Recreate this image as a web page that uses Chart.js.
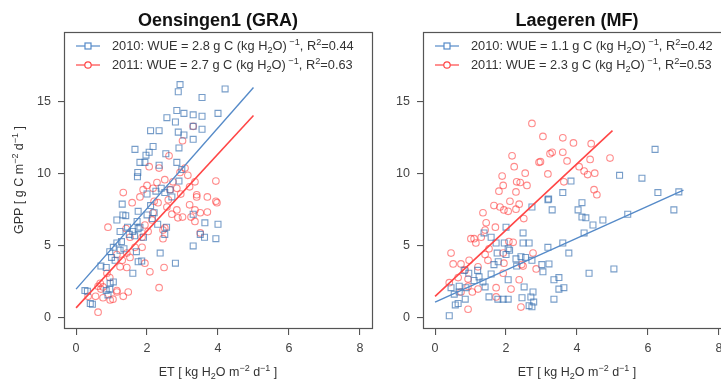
<!DOCTYPE html>
<html>
<head>
<meta charset="utf-8">
<script src="https://cdn.jsdelivr.net/npm/chart.js@4"></script>
<style>
  html, body { margin:0; padding:0; background:#fff; overflow:hidden; width:721px; height:383px; }
  .wrap { position:absolute; top:0; width:385px; height:383px; }
  canvas { display:block; }
</style>
</head>
<body>
<div class="wrap" style="left:0px"><canvas id="c1" width="385" height="383"></canvas></div>
<div class="wrap" style="left:359px"><canvas id="c2" width="385" height="383"></canvas></div>
<script>
// ---------------- data ----------------
const siteTitles = ["Oensingen1 (GRA)", "Laegeren (MF)"];
const years = ["2010", "2011"];
const xTicks = [0, 2, 4, 6, 8];
const yTicks = [0, 5, 10, 15];

// fit results per site: [2010, 2011]
const oensWUE = ["2.8", "2.7"];
const oensR2 = ["0.44", "0.63"];
const oensIntercept = [2.0, 0.7];
const oensSlope = [2.8, 2.67];
const oensFitXmax = [5, 5];

const laegWUE = ["1.1", "2.3"];
const laegR2 = ["0.42", "0.53"];
const laegIntercept = [1.1, 1.5];
const laegSlope = [1.11, 2.3];
const laegFitXmax = [7, 5];

// [ET, GPP] pairs
const oens2010 = [[0.25,1.9],[0.32,1.85],[0.4,1.0],[0.46,0.95],[0.9,1.6],[0.95,2.0],[0.96,2.4],[1.05,2.5],[0.85,1.9],
[0.7,3.6],[0.85,3.5],[0.95,4.6],[1.0,4.2],[1.1,4.0],[1.05,4.9],[1.15,5.2],[1.24,4.7],[1.28,5.3],[1.35,4.8],
[1.15,6.8],[1.3,7.9],[1.32,7.15],[1.24,6.0],[1.4,7.1],[1.5,5.8],[1.6,6.0],[1.65,5.7],[1.75,6.2],[1.8,6.3],[1.9,5.6],[1.45,6.3],
[1.6,3.1],[1.75,3.9],[1.85,3.95],[1.7,4.6],[1.75,7.4],[2.0,7.15],[1.72,6.7],[2.1,7.8],[2.2,7.3],[2.3,6.5],[2.15,6.9],
[2.37,4.5],[2.5,5.8],[2.55,6.3],[2.8,3.8],[2.5,8.7],[2.25,8.8],[2.4,9.0],[2.65,8.9],[2.0,8.6],
[1.66,11.7],[1.73,9.8],[1.74,10.1],[1.8,10.8],[1.94,10.8],[1.97,11.3],[2.06,11.5],[2.17,11.9],[2.1,13.0],[2.34,13.0],[2.34,10.6],[2.53,11.4],[2.56,13.9],[2.84,14.4],[2.84,10.8],[2.88,12.9],[2.88,15.7],[2.93,16.2],[2.9,11.8],[2.98,10.3],[3.04,14.2],[3.04,12.7],[3.3,14.1],[3.3,13.3],[3.3,12.4],[3.55,15.3],[3.55,14.0],[3.55,13.1],[4.2,15.9],[4.0,14.2],[2.8,13.6],
[3.3,7.2],[3.3,5.0],[3.5,5.8],[3.62,5.6],[3.63,6.6],[4.0,6.5],[3.94,5.5],[2.9,9.5],[2.7,8.4]];

const oens2011 = [[0.62,0.4],[0.34,1.5],[0.55,1.5],[0.62,2.2],[0.7,2.0],[0.76,1.4],[0.96,1.25],[1.04,1.3],[1.15,1.8],[1.33,1.5],[1.47,1.8],[1.15,1.9],[0.68,2.4],[0.76,2.15],[0.87,3.1],[0.95,2.8],
[2.08,3.2],[2.34,2.1],[2.48,3.5],[1.43,3.5],[1.24,3.55],[1.94,3.8],[1.86,4.9],[1.66,4.9],[1.43,4.5],[1.52,4.2],[1.15,4.4],[1.3,4.0],
[1.41,6.2],[0.9,6.3],[1.58,8.0],[1.52,5.6],[1.86,5.6],[2.03,6.0],[1.94,6.45],[2.14,6.8],[2.45,5.5],[2.45,6.1],[2.5,6.25],[2.17,7.3],[2.31,8.0],[2.56,7.7],[2.84,7.5],[2.87,6.95],[3.0,7.0],[2.7,7.2],
[3.2,7.85],[3.24,7.0],[3.35,7.5],[3.35,6.7],[3.5,7.3],[3.7,7.35],[3.4,8.4],[3.7,8.4],[3.97,8.0],[3.5,5.9],[2.6,8.2],[2.2,8.1],
[3.3,13.3],[3.0,12.3],[2.62,11.25],[2.06,10.5],[2.34,10.4],[3.94,9.5],[3.35,9.45],[3.15,9.9],[2.93,10.1],[3.07,10.4],[3.4,8.55],[3.94,8.1],[2.73,9.45],[2.84,9.0],[2.65,8.9],[2.28,9.4],[2.17,9.0],[1.89,8.9],[1.8,8.4],[1.33,8.7],[2.0,9.2],[2.5,9.6],[3.2,9.1],[2.95,8.6]];

const laeg2010 = [[0.4,0.15],[0.57,0.9],[0.65,1.0],[0.85,1.3],[0.54,1.65],[0.45,2.1],[0.68,2.2],[0.87,2.1],[0.68,1.8],[0.82,3.3],[0.95,3.1],[1.1,2.6],[1.24,2.85],[1.41,2.15],[1.52,1.46],[1.35,2.5],[1.58,3.05],[1.66,3.7],[1.75,4.5],[1.78,3.9],[2.0,4.4],[2.06,4.8],[1.95,5.2],[2.1,4.7],[1.72,5.2],[1.58,5.6],[1.38,5.9],[2.0,6.3],[2.48,5.9],[2.48,5.2],[2.65,5.2],[2.42,4.25],[2.28,4.1],[2.55,4.2],[2.73,4.0],[3.01,3.7],[3.21,3.75],[3.04,3.2],[2.06,2.65],[2.06,1.3],[1.92,1.3],[1.77,1.3],[2.51,2.15],[2.45,1.4],[2.76,1.8],[2.7,1.45],[2.73,0.77],[2.65,0.85],[2.78,1.1],[3.35,2.65],[3.49,2.8],[3.35,1.3],[3.49,2.0],[3.63,2.1],[3.18,4.9],[3.77,4.5],[3.6,5.2],[4.34,3.1],[5.04,3.4],
[2.73,7.7],[3.3,7.5],[3.18,8.2],[4.14,8.0],[4.03,7.5],[4.14,7.0],[4.25,6.95],[4.45,6.45],[4.73,6.8],[5.43,7.2],[6.28,8.7],[6.87,8.75],[6.73,7.5],[3.83,9.5],[3.6,8.7],[3.2,8.25],[5.2,9.9],[5.83,9.7],[6.2,11.7],[4.2,5.9],[2.3,3.6],[1.2,3.3]];

const laeg2011 = [[2.73,13.5],[3.04,12.6],[3.6,12.5],[3.9,12.15],[4.4,12.1],[2.17,11.25],[3.3,11.5],[3.24,11.4],[3.6,11.5],[2.93,10.8],[2.97,10.85],[3.72,10.9],[4.37,11.0],[4.93,11.1],[2.23,10.5],[2.54,10.05],[3.18,10.0],[4.06,10.5],[4.2,10.2],[4.3,9.95],[4.5,10.05],[1.89,9.85],[1.92,9.2],[1.8,8.8],[2.3,9.45],[2.4,9.4],[2.59,9.2],[2.28,8.75],[3.63,9.45],[4.48,8.9],[4.56,8.55],[2.11,8.1],[2.37,7.9],[1.66,7.8],[1.83,7.7],[1.94,7.5],[2.06,7.4],[2.28,7.55],[1.35,7.3],[2.5,6.9],
[1.44,6.6],[1.41,6.1],[1.01,5.5],[1.1,5.5],[1.15,5.2],[0.45,4.5],[0.51,3.75],[0.73,3.75],[0.96,4.0],[0.85,3.33],[1.21,3.55],[1.41,4.4],[1.49,4.0],[1.52,4.8],[0.4,2.45],[0.65,2.8],[0.93,2.7],[0.73,1.8],[0.93,2.2],[1.21,2.0],[1.05,1.8],[1.72,2.1],[1.72,1.46],[0.93,0.6],[1.92,3.1],[1.94,3.8],[1.92,4.5],[2.08,5.3],[2.2,5.25],[2.37,2.65],[2.14,2.0],[2.42,0.75],[2.48,3.6],[2.44,3.7],[2.76,4.5],[2.85,3.4],[1.7,6.3],[1.3,5.6]];

// ---------------- styling ----------------
const FONT = '"Liberation Sans", Arial, Helvetica, sans-serif';
const BLUE_PT = 'rgba(55,110,175,0.68)';
const RED_PT = 'rgba(255,55,55,0.58)';
const BLUE_LN = 'rgba(85,138,200,1)';
const RED_LN = 'rgba(255,70,70,1)';
const AXIS = '#555';
const TXT = '#333';

const SUP = 'sup', SUB = 'sub', N = 'n';
function drawRich(ctx, segs, x, y, size, align, weight) {
  const w = weight || 'normal';
  let total = 0;
  for (const [t, k] of segs) {
    ctx.font = `${w} ${k === N ? size : size * 0.72}px ${FONT}`;
    total += ctx.measureText(t).width;
  }
  let cx = align === 'center' ? x - total / 2 : (align === 'right' ? x - total : x);
  ctx.textAlign = 'left';
  ctx.textBaseline = 'alphabetic';
  for (const [t, k] of segs) {
    ctx.font = `${w} ${k === N ? size : size * 0.72}px ${FONT}`;
    const dy = k === SUP ? -size * 0.42 : (k === SUB ? size * 0.22 : 0);
    ctx.fillText(t, cx, y + dy);
    cx += ctx.measureText(t).width;
  }
}

function legendSegs(year, wue, r2) {
  return [[year + ': WUE = ' + wue + ' g C (kg H', N], ['2', SUB], ['O)', N], [' \u22121', SUP], [', R', N], ['2', SUP], ['=' + r2, N]];
}
const xTitleSegs = [['ET [ kg H', N], ['2', SUB], ['O m', N], ['\u22122', SUP], [' d', N], ['\u22121', SUP], [' ]', N]];
const yTitleSegs = [['GPP [ g C m', N], ['\u22122', SUP], [' d', N], ['\u22121', SUP], [' ]', N]];

const decorPlugin = {
  id: 'decor',
  afterDraw(chart, args, opts) {
    const ctx = chart.ctx;
    const a = chart.chartArea;
    ctx.save();
    // box
    ctx.strokeStyle = AXIS;
    ctx.lineWidth = 1.2;
    ctx.strokeRect(Math.round(a.left) + 0.5, Math.round(a.top) + 0.5, Math.round(a.right - a.left), Math.round(a.bottom - a.top));
    ctx.fillStyle = '#111';
    // title
    ctx.font = `bold 18px ${FONT}`;
    ctx.textAlign = 'center';
    ctx.textBaseline = 'alphabetic';
    ctx.fillText(opts.title, (a.left + a.right) / 2, 26);
    // legend
    const lx0 = a.left + 12, lx1 = a.left + 36, tx = a.left + 48;
    const rows = [{y: 46, col: BLUE_LN, shape: 'rect'}, {y: 65, col: RED_LN, shape: 'circle'}];
    rows.forEach((r, i) => {
      ctx.strokeStyle = r.col;
      ctx.lineWidth = 1.2;
      ctx.beginPath(); ctx.moveTo(lx0, r.y); ctx.lineTo(lx1, r.y); ctx.stroke();
      ctx.fillStyle = '#fff';
      const mx = (lx0 + lx1) / 2;
      if (r.shape === 'rect') { ctx.fillRect(mx - 3, r.y - 3, 6, 6); ctx.strokeRect(mx - 3, r.y - 3, 6, 6); }
      else { ctx.beginPath(); ctx.arc(mx, r.y, 3.2, 0, Math.PI * 2); ctx.fill(); ctx.stroke(); }
      ctx.fillStyle = TXT;
      drawRich(ctx, opts.legend[i], tx, r.y + 4, 12.8, 'left');
    });
    // x title
    ctx.fillStyle = TXT;
    drawRich(ctx, xTitleSegs, (a.left + a.right) / 2, 376, 12.5, 'center');
    // y title
    if (opts.yTitle) {
      ctx.save();
      ctx.translate(23, (a.top + a.bottom) / 2);
      ctx.rotate(-Math.PI / 2);
      drawRich(ctx, yTitleSegs, 0, 0, 12.5, 'center');
      ctx.restore();
    }
    ctx.restore();
  }
};

function lineData(a, b, xmax) {
  return [{x: 0, y: a}, {x: xmax, y: a + b * xmax}];
}
function pts(arr) { return arr.map(p => ({x: p[0], y: p[1]})); }

function makeChart(id, title, s2010, s2011, icpt, slope, xmax, wue, r2, yTitle) {
  return new Chart(document.getElementById(id), {
    type: 'scatter',
    data: {
      datasets: [
        {label: years[0], data: pts(s2010), pointStyle: 'rect', pointRadius: 4.2, borderColor: BLUE_PT, backgroundColor: 'rgba(0,0,0,0)', borderWidth: 1.1, order: 2},
        {label: years[1], data: pts(s2011), pointStyle: 'circle', pointRadius: 3.3, borderColor: RED_PT, backgroundColor: 'rgba(0,0,0,0)', borderWidth: 1.1, order: 2},
        {label: years[0] + ' fit', data: lineData(icpt[0], slope[0], xmax[0]), showLine: true, pointRadius: 0, borderColor: BLUE_LN, borderWidth: 1.4, order: 1},
        {label: years[1] + ' fit', data: lineData(icpt[1], slope[1], xmax[1]), showLine: true, pointRadius: 0, borderColor: RED_LN, borderWidth: 1.6, order: 1}
      ]
    },
    options: {
      responsive: false,
      animation: false,
      devicePixelRatio: 1,
      layout: {padding: {top: 32, right: 13, left: 0, bottom: 0}},
      plugins: {
        legend: {display: false},
        tooltip: {enabled: false},
        decor: {title: title, legend: [legendSegs(years[0], wue[0], r2[0]), legendSegs(years[1], wue[1], r2[1])], yTitle: yTitle}
      },
      scales: {
        x: {
          type: 'linear', min: -0.34, max: 8.34,
          afterBuildTicks: s => { s.ticks = xTicks.map(v => ({value: v})); },
          afterFit: s => { s.height = 55; },
          grid: {drawOnChartArea: false, drawTicks: true, tickLength: 7, color: AXIS, lineWidth: 1.1},
          border: {display: false},
          ticks: {color: '#444', font: {family: FONT, size: 12.5}, padding: 6, maxRotation: 0}
        },
        y: {
          type: 'linear', min: -0.7, max: 19.85,
          afterBuildTicks: s => { s.ticks = yTicks.map(v => ({value: v})); },
          afterFit: s => { s.width = 64; },
          grid: {drawOnChartArea: false, drawTicks: true, tickLength: 6, color: AXIS, lineWidth: 1.1},
          border: {display: false},
          ticks: {color: '#444', font: {family: FONT, size: 12.5}, padding: 7}
        }
      }
    },
    plugins: [decorPlugin]
  });
}

makeChart('c1', siteTitles[0], oens2010, oens2011, oensIntercept, oensSlope, oensFitXmax, oensWUE, oensR2, true);
makeChart('c2', siteTitles[1], laeg2010, laeg2011, laegIntercept, laegSlope, laegFitXmax, laegWUE, laegR2, false);
</script>
</body>
</html>
